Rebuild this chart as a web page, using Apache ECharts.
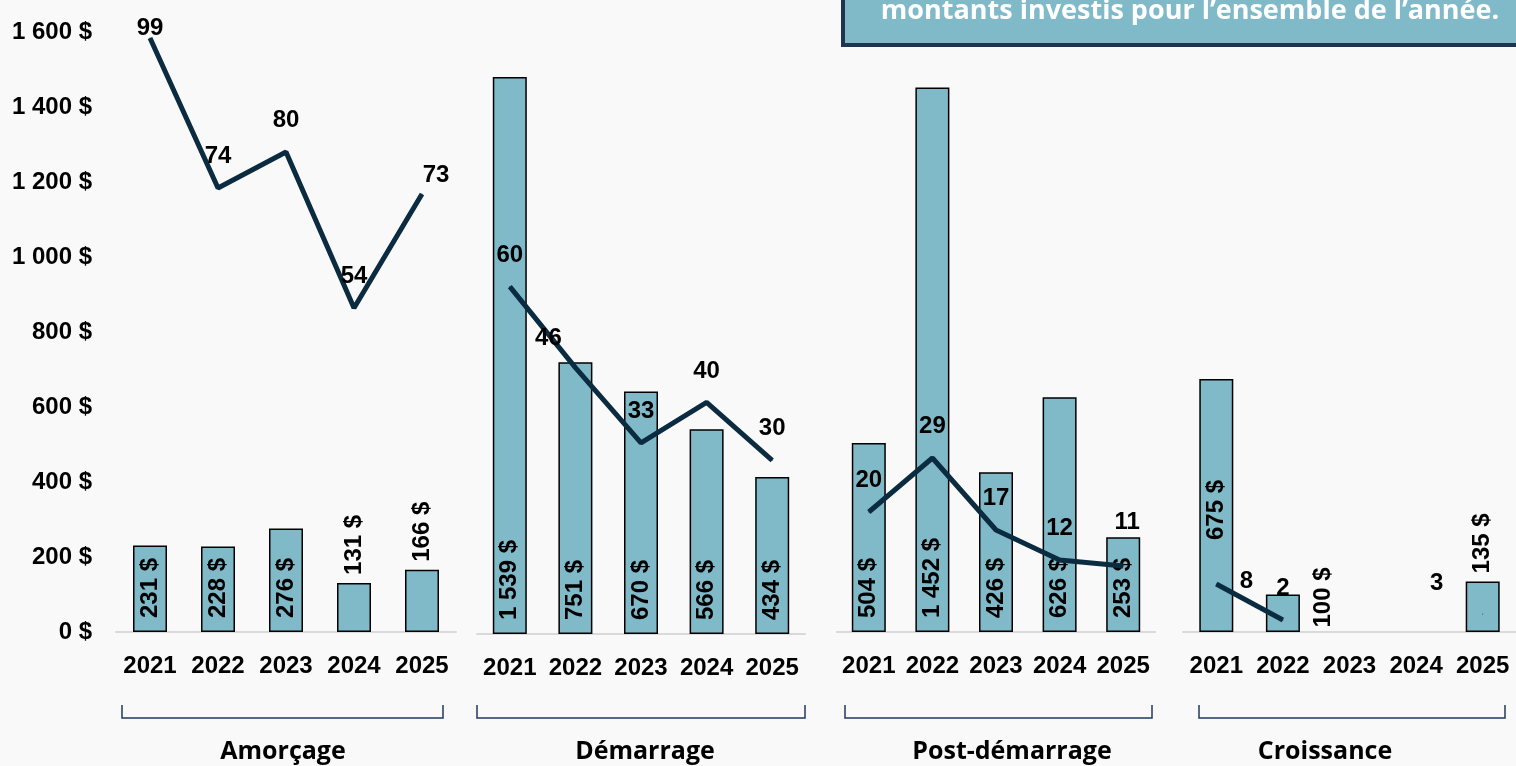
<!DOCTYPE html>
<html>
<head>
<meta charset="utf-8">
<script src="https://cdn.jsdelivr.net/npm/echarts@6/dist/echarts.min.js"></script>
<style>
  html, body { margin: 0; padding: 0; background: #f9f9f9; }
  #chart { width: 1516px; height: 766px; }
</style>
</head>
<body>
<div id="chart"></div>
<script>
const categories = ['2021', '2022', '2023', '2024', '2025'];
const stages = ['Amorçage', 'Démarrage', 'Post-démarrage', 'Croissance'];

// montants investis (M$)
const amountsAmorcage = [231, 228, 276, 131, 166];
const amountsDemarrage = [1539, 751, 670, 566, 434];
const amountsPostDemarrage = [504, 1452, 426, 626, 253];
const amountsCroissance = [675, 100, null, null, 135];

// nombre de transactions
const dealsAmorcage = [99, 74, 80, 54, 73];
const dealsDemarrage = [60, 46, 33, 40, 30];
const dealsPostDemarrage = [20, 29, 17, 12, 11];
const dealsCroissance = [8, 2, null, null, 3];

const yTicks = [0, 200, 400, 600, 800, 1000, 1200, 1400, 1600];
const boxText = 'montants investis pour l\u2019ensemble de l\u2019année.';

const amounts = [amountsAmorcage, amountsDemarrage, amountsPostDemarrage, amountsCroissance];
const deals = [dealsAmorcage, dealsDemarrage, dealsPostDemarrage, dealsCroissance];

// mise en page des panneaux (px)
const panels = [
  { left: 116, width: 340, top: 32, height: 600, bracket: [122, 443], title: 283, narrow: false },
  { left: 477, width: 328, top: 55, height: 579, bracket: [477, 805], title: 645, narrow: true },
  { left: 837, width: 318, top: 32, height: 600, bracket: [845, 1152], title: 1012, narrow: true },
  { left: 1183, width: 336, top: 32, height: 600, bracket: [1199, 1505], title: 1325, narrow: false }
];

// étiquettes de barres déplacées
const barLabelSpecial = {
  '0-3': { position: 'top', distance: 8 },
  '0-4': { position: 'top', distance: 8 },
  '3-0': { distance: 92 },
  '3-4': { position: 'top', distance: 8 },
  '3-1': { position: ['168%', '88%'] }
};
// étiquettes de courbe déplacées
const lineLabelOffset = {
  '0-0': [0, 22],
  '0-4': [14, 13],
  '1-1': [-27, 2],
  '2-4': [4, -12],
  '3-0': [30, 29],
  '3-4': [-46, 1]
};

const money = v => String(v).replace(/\B(?=(\d{3})+(?!\d))/g, ' ') + ' $';
const bold = { fontWeight: 'bold', fontSize: 24, color: '#000', fontFamily: 'Liberation Sans, Arial, sans-serif' };

const chart = echarts.init(document.getElementById('chart'));

const grid = panels.map(p => ({ left: p.left, width: p.width, top: p.top, height: p.height }));

const xAxis = panels.map((p, i) => ({
  type: 'category',
  gridIndex: i,
  data: categories,
  axisTick: { show: false },
  axisLine: { lineStyle: { color: '#d9d9d9', width: 2 } },
  axisLabel: Object.assign({}, bold, {
    margin: 22,
    interval: 0,
    fontFamily: p.narrow ? 'Liberation Sans Narrow, Arial Narrow, sans-serif' : bold.fontFamily
  })
}));

const yAxis = [];
panels.forEach((p, i) => {
  yAxis.push({
    type: 'value',
    gridIndex: i,
    min: yTicks[0],
    max: yTicks[yTicks.length - 1],
    interval: yTicks[1] - yTicks[0],
    splitLine: { show: false },
    axisLine: { show: false },
    axisTick: { show: false },
    axisLabel: Object.assign({}, bold, { show: i === 0, margin: 24, formatter: money })
  });
});
panels.forEach((p, i) => {
  yAxis.push({ type: 'value', gridIndex: i, min: 0, max: 100, show: false, splitLine: { show: false } });
});

const series = [];
amounts.forEach((arr, i) => {
  series.push({
    name: stages[i],
    type: 'bar',
    xAxisIndex: i,
    yAxisIndex: i,
    barWidth: 34,
    itemStyle: { color: '#80b9c8', borderColor: '#000', borderWidth: 1.5 },
    label: Object.assign({}, bold, {
      show: true,
      position: 'insideBottom',
      rotate: 90,
      align: 'left',
      verticalAlign: 'middle',
      distance: 14,
      formatter: prm => money(prm.value)
    }),
    data: arr.map((v, j) => {
      const sp = barLabelSpecial[i + '-' + j];
      return sp ? { value: v, label: sp } : v;
    }),
    z: 2
  });
});
deals.forEach((arr, i) => {
  series.push({
    name: stages[i] + ' (nb)',
    type: 'line',
    xAxisIndex: i,
    yAxisIndex: 4 + i,
    symbol: 'circle',
    symbolSize: 1,
    lineStyle: { color: '#0b2b41', width: 5 },
    itemStyle: { color: '#0b2b41' },
    label: Object.assign({}, bold, { show: true, position: 'top', distance: 19 }),
    data: arr.map((v, j) => {
      const off = lineLabelOffset[i + '-' + j];
      return off ? { value: v, label: { offset: off } } : v;
    }),
    z: 5
  });
});

const graphic = [];
panels.forEach((p, i) => {
  graphic.push({
    type: 'polyline',
    shape: { points: [[p.bracket[0], 705], [p.bracket[0], 718], [p.bracket[1], 718], [p.bracket[1], 705]] },
    style: { stroke: '#1f3a5f', lineWidth: 1.5, fill: null }
  });
  graphic.push({
    type: 'text',
    x: p.title,
    y: 752,
    style: {
      text: stages[i],
      fontFamily: 'Open Sans, sans-serif',
      fontWeight: 'bold',
      fontSize: 25,
      fill: '#000',
      align: 'center',
      verticalAlign: 'middle'
    }
  });
});
graphic.push({
  type: 'rect',
  shape: { x: 843, y: -60, width: 720, height: 105 },
  style: { fill: '#80b9c8', stroke: '#1d3550', lineWidth: 4 }
});
graphic.push({
  type: 'text',
  x: 1190,
  y: 11,
  style: {
    text: boxText,
    fontFamily: 'Open Sans, sans-serif',
    fontWeight: 'bold',
    fontSize: 27,
    fill: '#fff',
    align: 'center',
    verticalAlign: 'middle'
  }
});

chart.setOption({
  backgroundColor: '#f9f9f9',
  animation: false,
  grid: grid,
  xAxis: xAxis,
  yAxis: yAxis,
  series: series,
  graphic: graphic
});
</script>
</body>
</html>
